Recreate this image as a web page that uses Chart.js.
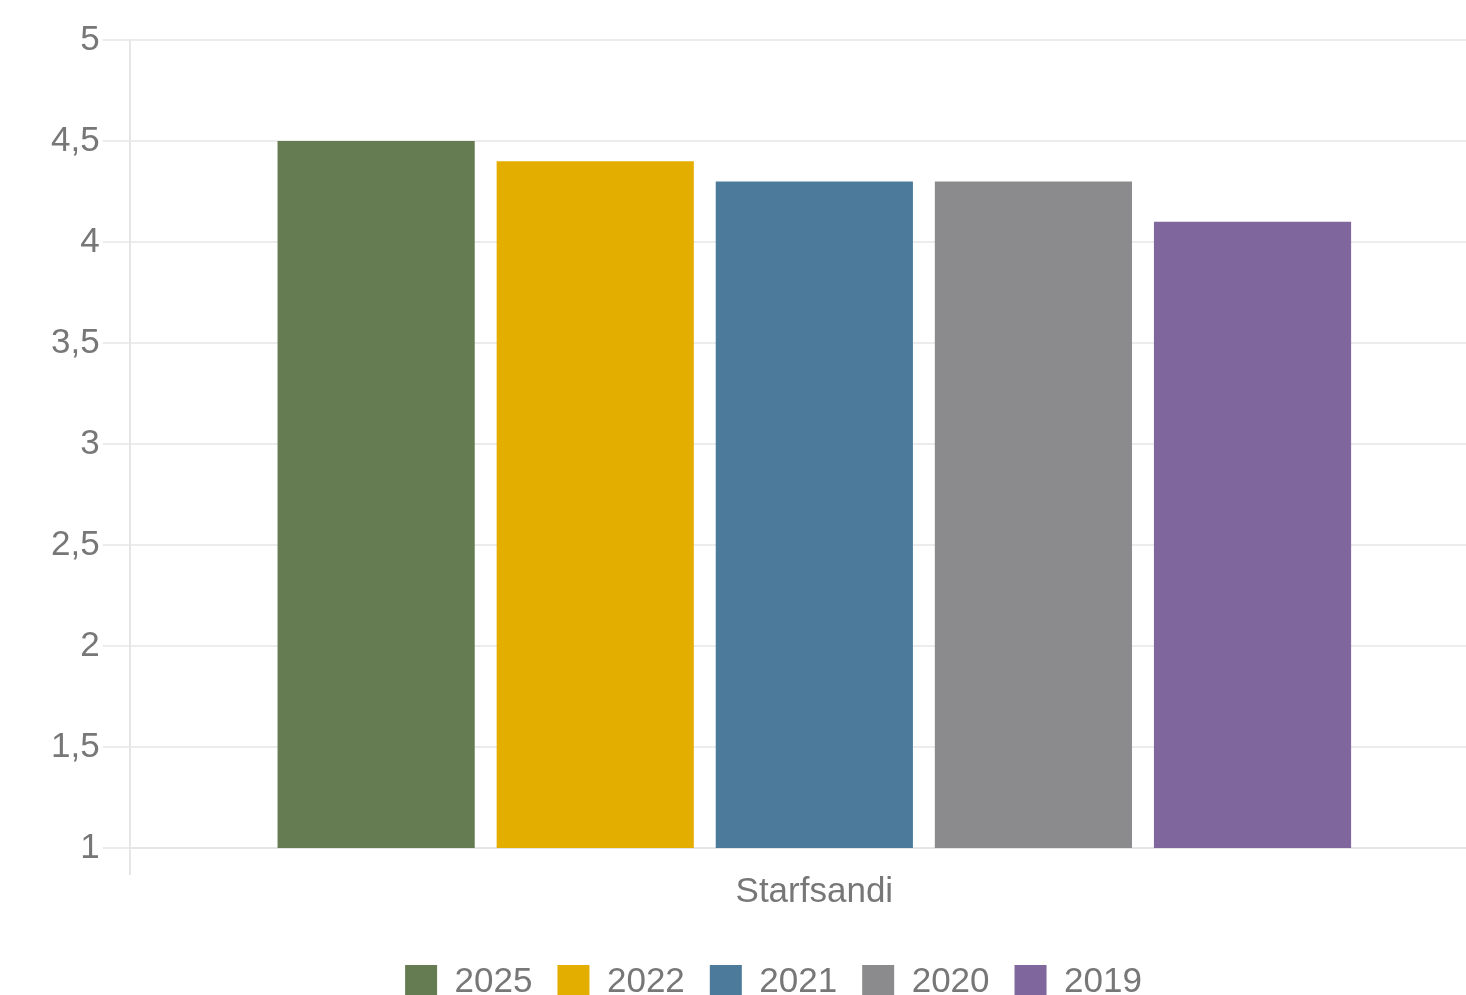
<!DOCTYPE html>
<html>
<head>
<meta charset="utf-8">
<script src="https://cdn.jsdelivr.net/npm/chart.js@4/dist/chart.umd.min.js"></script>
<style>
  html, body { margin: 0; padding: 0; background: #fff; overflow: hidden; }
  #wrap { width: 1540px; height: 1010px; }
</style>
</head>
<body>
<div id="wrap"><canvas id="chart" width="1540" height="1010"></canvas></div>
<script>
// data
const categories = ['Starfsandi'];
const years = ['2025', '2022', '2021', '2020', '2019'];
const scores = [4.5, 4.4, 4.3, 4.3, 4.1];
const barColors = ['#657c53', '#e3ae00', '#4c7a9a', '#8b8b8d', '#7f669d'];

const yMin = 1, yMax = 5, yStep = 0.5;

// one dataset per year, single category
const datasets = years.map((y, i) => ({
  label: y,
  data: [scores[i]],
  backgroundColor: barColors[i],
  borderWidth: 0
}));

const font = { family: '"Liberation Sans", Arial, sans-serif', size: 35 };

const ctx = document.getElementById('chart').getContext('2d');
new Chart(ctx, {
  type: 'bar',
  data: { labels: categories, datasets },
  options: {
    responsive: false,
    animation: false,
    devicePixelRatio: 1,
    layout: { padding: { left: 48, right: 41, top: 40, bottom: 0 } },
    scales: {
      x: {
        grid: { color: '#e6e6e6', lineWidth: 2, tickLength: 27 },
        border: { color: '#e6e6e6', width: 2 },
        ticks: { color: '#777', font, padding: -4 },
        afterFit: axis => { axis.height += 31; }
      },
      y: {
        min: yMin,
        max: yMax,
        grid: { color: '#ececec', lineWidth: 2, tickLength: 27 },
        border: { color: '#e6e6e6', width: 2 },
        ticks: {
          stepSize: yStep,
          color: '#777',
          font,
          padding: 3,
          callback: v => String(v).replace('.', ',')
        }
      }
    },
    plugins: {
      legend: {
        position: 'bottom',
        labels: { color: '#777', font, boxWidth: 32, boxHeight: 35, padding: 25 }
      },
      tooltip: { enabled: false }
    }
  }
});
</script>
</body>
</html>
